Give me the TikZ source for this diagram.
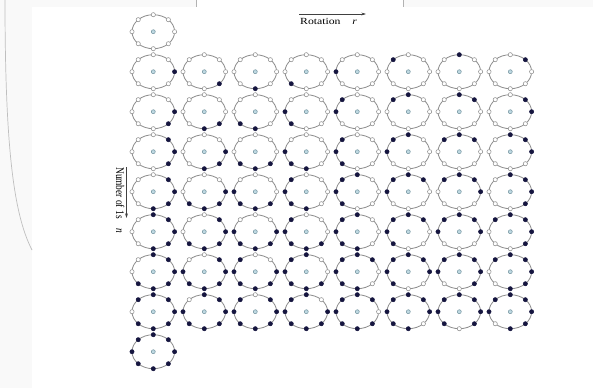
\documentclass[tikz,border=0pt]{standalone}
\usepackage{fontspec}
\setmainfont{Liberation Serif}
\usetikzlibrary{arrows.meta, calc}

\definecolor{beadfill}{HTML}{15153F}
\definecolor{ringgray}{HTML}{8E8E8E}
\definecolor{hubfill}{HTML}{BFD9E2}
\definecolor{hubdraw}{HTML}{6F909C}

\begin{document}
\begin{tikzpicture}[
    x=0.03cm, y=-0.03cm,
    ring/.style={draw=ringgray, line width=0.7pt},
    hub/.style={circle, draw=hubdraw, fill=hubfill, line width=0.4pt, inner sep=0pt, minimum size=3.4pt},
    bead/.style={circle, line width=0.45pt, inner sep=0pt, minimum size=3.6pt},
    lbl/.style={font=\fontsize{10}{12}\selectfont, inner sep=0pt},
    axis/.style={-{Stealth[length=4pt, width=2.4pt]}, line width=0.5pt, black!75}
]
\useasboundingbox (0,0) rectangle (593,388);

% page background
\fill[gray!5] (0,0) rectangle (593,388);
\fill[white] (32,7) rectangle (593,388);
\fill[white] (196,0) rectangle (403,7);
\draw[gray!60, line width=0.6pt] (196,0) -- (196,7);
\draw[gray!60, line width=0.6pt] (403,0) -- (403,7);
\draw[gray!50, line width=0.6pt] (5,0) .. controls (5,150) and (14,215) .. (32,250);

% necklaces: row = number of 1s, column = rotation
\foreach \nb in {0,...,8} {
  \ifnum\nb=0 \def\cols{0}\else\ifnum\nb=8 \def\cols{0}\else\def\cols{0,...,7}\fi\fi
  \foreach \rt in \cols {
    \node[hub] (hub-\nb-\rt) at ({153.3+51*\rt},{31.7+40*\nb}) {};
    \draw[ring] (hub-\nb-\rt) ellipse [x radius=21.3, y radius=17];
    \pgfmathsetmacro\st{45*floor((\nb-1)/2)-45*\rt}
    \foreach \k in {0,...,7} {
      \pgfmathsetmacro\ang{\st-45*\k}
      \ifnum\k<\nb \def\bcol{beadfill}\def\bline{beadfill}\else\def\bcol{white}\def\bline{ringgray}\fi
      \node[bead, fill=\bcol, draw=\bline] (bead-\nb-\rt-\k) at ($(hub-\nb-\rt)+({21.3*cos(\ang)},{-17*sin(\ang)})$) {};
    }
  }
}

% axis labels
\node[lbl, anchor=base west] (rotlbl) at (300,24.5) {\scalebox{1}[0.8]{Rotation\quad\textit{r}}};
\coordinate (rotstart) at (299,14);
\coordinate (rotend) at (366,14);
\draw[axis] (rotstart) -- (rotend);

\node[lbl, rotate=-90, anchor=north west] (onelbl) at (124.5,167) {\scalebox{0.8}[1]{Number of 1s\quad\textit{n}}};
\coordinate (onestart) at (126.5,167);
\coordinate (oneend) at (126.5,218);
\draw[axis] (onestart) -- (oneend);
\end{tikzpicture}
\end{document}
